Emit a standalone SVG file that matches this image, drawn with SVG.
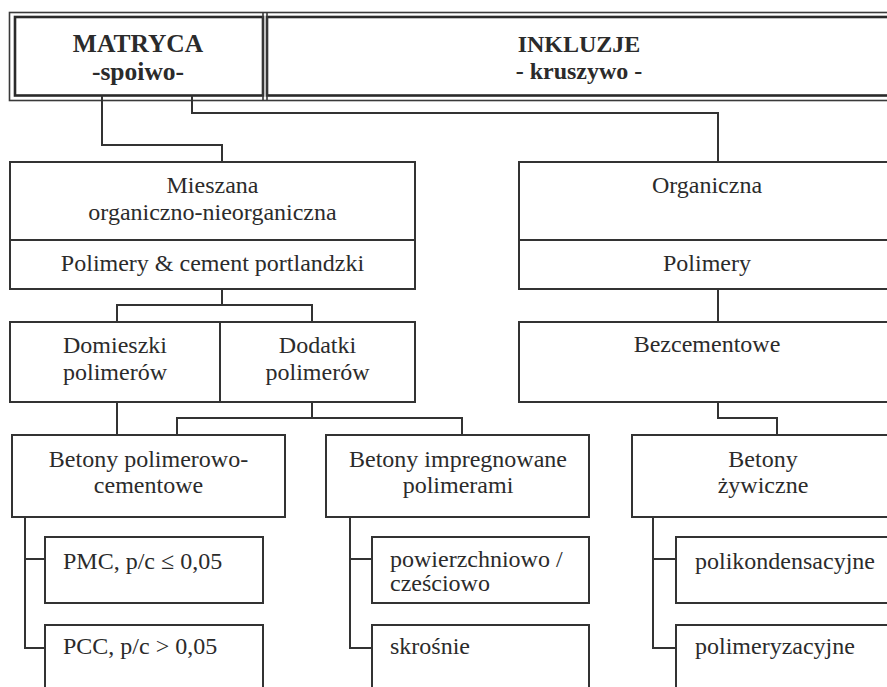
<svg xmlns="http://www.w3.org/2000/svg" width="887" height="687" viewBox="0 0 887 687">
<style>
  .box { fill: #ffffff; stroke: #333333; stroke-width: 2; }
  .ln { fill: none; stroke: #333333; stroke-width: 2; }
  .frame { fill: none; stroke: #3a3a3a; stroke-width: 1.6; }
  .inner { fill: none; stroke: #2a2a2a; stroke-width: 2.6; }
  .t { font-family: "Liberation Serif", "Times New Roman", serif; font-size: 24px; fill: #2b2b2b; text-anchor: middle; }
  .tl { text-anchor: start; }
  .h { font-family: "Liberation Serif", "Times New Roman", serif; font-weight: bold; fill: #2b2b2b; text-anchor: middle; }
</style>
<rect width="887" height="687" fill="#ffffff"/>

<g id="header-frame">
  <rect class="frame" x="9.5" y="12.5" width="900" height="88"/>
</g>
<g id="matryca">
  <rect class="inner" x="15" y="17" width="248" height="78.5"/>
  <line class="frame" x1="263" y1="12.5" x2="263" y2="100.5"/>
  <text class="h" x="138" y="52" font-size="25.5">MATRYCA</text>
  <text class="h" x="138" y="80" font-size="25.5">-spoiwo-</text>
</g>
<g id="inkluzje">
  <rect class="inner" x="267" y="17" width="640" height="78.5"/>
  <line class="frame" x1="267" y1="12.5" x2="267" y2="100.5"/>
  <text class="h" x="579" y="52" font-size="24">INKLUZJE</text>
  <text class="h" x="579" y="79" font-size="24">- kruszywo -</text>
</g>

<g id="connectors">
  <polyline class="ln" points="102,95.5 102,145 222,145 222,162"/>
  <polyline class="ln" points="192,95.5 192,113 718,113 718,162"/>
  <line class="ln" x1="222" y1="289" x2="222" y2="305"/>
  <polyline class="ln" points="117,322 117,305 312,305 312,322"/>
  <line class="ln" x1="117" y1="402" x2="117" y2="435"/>
  <line class="ln" x1="312" y1="402" x2="312" y2="418"/>
  <polyline class="ln" points="177,435 177,418 462,418 462,435"/>
  <line class="ln" x1="718" y1="289" x2="718" y2="322"/>
  <polyline class="ln" points="718,402 718,418 777,418 777,435"/>
  <polyline class="ln" points="25,517 25,648 45,648"/>
  <line class="ln" x1="25" y1="559" x2="45" y2="559"/>
  <polyline class="ln" points="350,517 350,648 372,648"/>
  <line class="ln" x1="350" y1="559" x2="372" y2="559"/>
  <polyline class="ln" points="653,517 653,648 676,648"/>
  <line class="ln" x1="653" y1="559" x2="676" y2="559"/>
</g>

<g id="mieszana">
  <rect class="box" x="10" y="162" width="405" height="127"/>
  <line class="ln" x1="10" y1="240" x2="415" y2="240"/>
  <text class="t" x="212.5" y="193">Mieszana</text>
  <text class="t" x="212.5" y="220">organiczno-nieorganiczna</text>
  <text class="t" x="212.5" y="271">Polimery &amp; cement portlandzki</text>
</g>
<g id="organiczna">
  <rect class="box" x="519" y="162" width="380" height="127"/>
  <line class="ln" x1="519" y1="240" x2="899" y2="240"/>
  <text class="t" x="707" y="193">Organiczna</text>
  <text class="t" x="707" y="271">Polimery</text>
</g>
<g id="domieszki">
  <rect class="box" x="10" y="322" width="210" height="80"/>
  <text class="t" x="115" y="353">Domieszki</text>
  <text class="t" x="115" y="380">polimerów</text>
</g>
<g id="dodatki">
  <rect class="box" x="220" y="322" width="195" height="80"/>
  <text class="t" x="317.5" y="353">Dodatki</text>
  <text class="t" x="317.5" y="380">polimerów</text>
</g>
<g id="bezcementowe">
  <rect class="box" x="519" y="322" width="380" height="80"/>
  <text class="t" x="707" y="352">Bezcementowe</text>
</g>
<g id="betony-pc">
  <rect class="box" x="12" y="435" width="273" height="82"/>
  <text class="t" x="148.5" y="467">Betony polimerowo-</text>
  <text class="t" x="148.5" y="493">cementowe</text>
</g>
<g id="betony-ip">
  <rect class="box" x="326" y="435" width="263" height="82"/>
  <text class="t" x="458" y="467">Betony impregnowane</text>
  <text class="t" x="458" y="493">polimerami</text>
</g>
<g id="betony-z">
  <rect class="box" x="632" y="435" width="270" height="82"/>
  <text class="t" x="763" y="467">Betony</text>
  <text class="t" x="763" y="493">żywiczne</text>
</g>
<g id="pmc">
  <rect class="box" x="45" y="537" width="218" height="66"/>
  <text class="t tl" x="63" y="569">PMC, p/c ≤ 0,05</text>
</g>
<g id="pcc">
  <rect class="box" x="45" y="625" width="218" height="80"/>
  <text class="t tl" x="63" y="654">PCC, p/c &gt; 0,05</text>
</g>
<g id="powierzchniowo">
  <rect class="box" x="372" y="537" width="217" height="66"/>
  <text class="t tl" x="390" y="567">powierzchniowo /</text>
  <text class="t tl" x="390" y="591">cześciowo</text>
</g>
<g id="skrosnie">
  <rect class="box" x="372" y="625" width="217" height="80"/>
  <text class="t tl" x="390" y="654">skrośnie</text>
</g>
<g id="polikondensacyjne">
  <rect class="box" x="676" y="537" width="230" height="66"/>
  <text class="t tl" x="695" y="569">polikondensacyjne</text>
</g>
<g id="polimeryzacyjne">
  <rect class="box" x="676" y="625" width="230" height="80"/>
  <text class="t tl" x="695" y="654">polimeryzacyjne</text>
</g>
</svg>
